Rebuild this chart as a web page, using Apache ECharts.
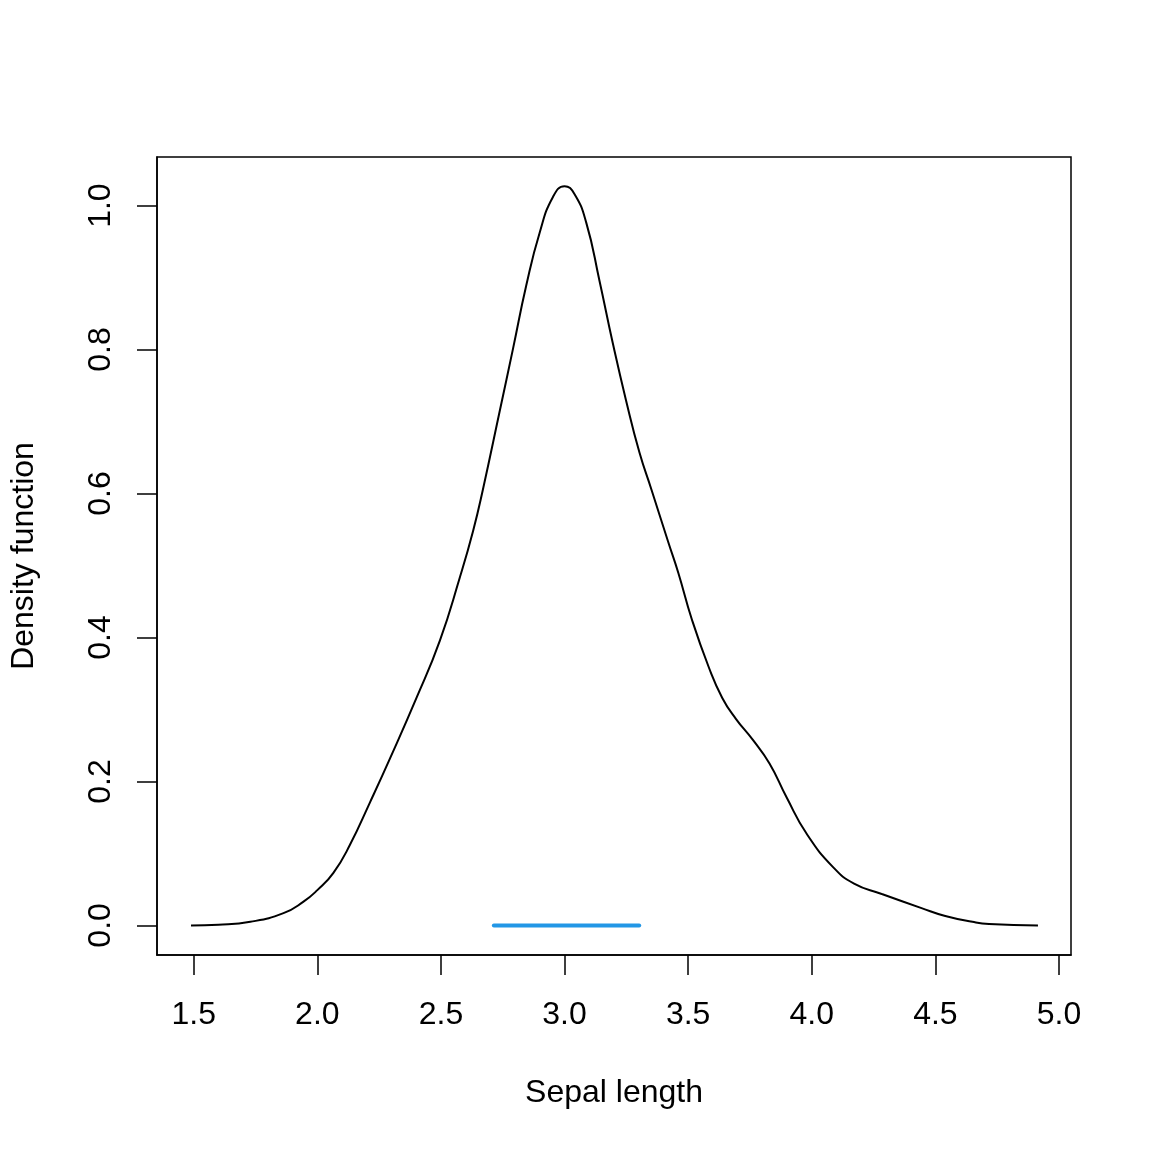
<!DOCTYPE html>
<html>
<head>
<meta charset="utf-8">
<script src="https://cdn.jsdelivr.net/npm/echarts@6/dist/echarts.min.js"></script>
<style>
html,body{margin:0;padding:0;background:#fff;}
#chart{width:1152px;height:1152px;}
</style>
</head>
<body>
<div id="chart"></div>
<script>
// Density curve (x, density)
const densityX = [1.489, 1.60, 1.729, 1.863, 1.944, 2.0, 2.065, 2.132, 2.213, 2.294, 2.401, 2.496, 2.576, 2.630, 2.670, 2.738, 2.792, 2.845, 2.899, 2.953, 3.0, 3.040, 3.088, 3.141, 3.195, 3.249, 3.303, 3.351, 3.419, 3.460, 3.515, 3.583, 3.638, 3.693, 3.761, 3.829, 3.898, 3.980, 4.089, 4.171, 4.280, 4.444, 4.540, 4.650, 4.717, 4.915];
const densityY = [0.0, 0.001, 0.005, 0.017, 0.033, 0.049, 0.073, 0.112, 0.171, 0.232, 0.316, 0.396, 0.483, 0.548, 0.606, 0.715, 0.802, 0.889, 0.962, 1.012, 1.027, 1.016, 0.976, 0.896, 0.809, 0.729, 0.657, 0.606, 0.533, 0.490, 0.425, 0.359, 0.316, 0.287, 0.258, 0.225, 0.178, 0.127, 0.080, 0.058, 0.044, 0.024, 0.013, 0.005, 0.002, 0.0];
// Blue interval segment on the baseline
const intervalX = [2.714, 3.302];
const intervalY = [0, 0];
// Tick labels
const xTicks = [1.5, 2.0, 2.5, 3.0, 3.5, 4.0, 4.5, 5.0];
const yTicks = [0.0, 0.2, 0.4, 0.6, 0.8, 1.0];

const xMin = 1.3514, xMax = 5.0486;
const yMin = -0.0411, yMax = 1.0675;

const curve = densityX.map((x, i) => [x, densityY[i]]);
const seg = intervalX.map((x, i) => [x, intervalY[i]]);

const font = 'Liberation Sans, Arial, Helvetica, sans-serif';
const chart = echarts.init(document.getElementById('chart'), null, {renderer: 'canvas'});
chart.setOption({
  animation: false,
  backgroundColor: '#fff',
  grid: {
    left: 157, right: 81, top: 157, bottom: 197,
    containLabel: false, outerBoundsMode: 'none',
    show: true, borderColor: '#000', borderWidth: 1.5, backgroundColor: 'transparent'
  },
  xAxis: {
    type: 'value', min: xMin, max: xMax,
    name: 'Sepal length', nameLocation: 'middle', nameGap: 122,
    nameTextStyle: {color: '#000', fontSize: 32, fontFamily: font},
    axisLine: {show: true, onZero: false, lineStyle: {color: '#000', width: 1.5}},
    axisTick: {show: true, inside: false, length: 20, lineStyle: {color: '#000', width: 1.5}, customValues: xTicks},
    axisLabel: {color: '#000', fontSize: 32, fontFamily: font, margin: 44, customValues: xTicks,
      formatter: v => v.toFixed(1)},
    splitLine: {show: false}
  },
  yAxis: {
    type: 'value', min: yMin, max: yMax,
    name: 'Density function', nameLocation: 'middle', nameGap: 117, nameRotate: 90,
    nameTextStyle: {color: '#000', fontSize: 32, fontFamily: font},
    axisLine: {show: true, onZero: false, lineStyle: {color: '#000', width: 1.5}},
    axisTick: {show: true, inside: false, length: 20, lineStyle: {color: '#000', width: 1.5}, customValues: yTicks},
    axisLabel: {color: '#000', fontSize: 32, fontFamily: font, margin: 40, rotate: 90, customValues: yTicks,
      formatter: v => v.toFixed(1)},
    splitLine: {show: false}
  },
  series: [
    {
      type: 'line', data: curve, smooth: 0.5, showSymbol: false, symbol: 'none',
      lineStyle: {color: '#000', width: 2}, z: 3
    },
    {
      type: 'line', data: seg, showSymbol: false, symbol: 'none',
      lineStyle: {color: '#2297E6', width: 4, cap: 'round'}, z: 4
    }
  ]
});
</script>
</body>
</html>
